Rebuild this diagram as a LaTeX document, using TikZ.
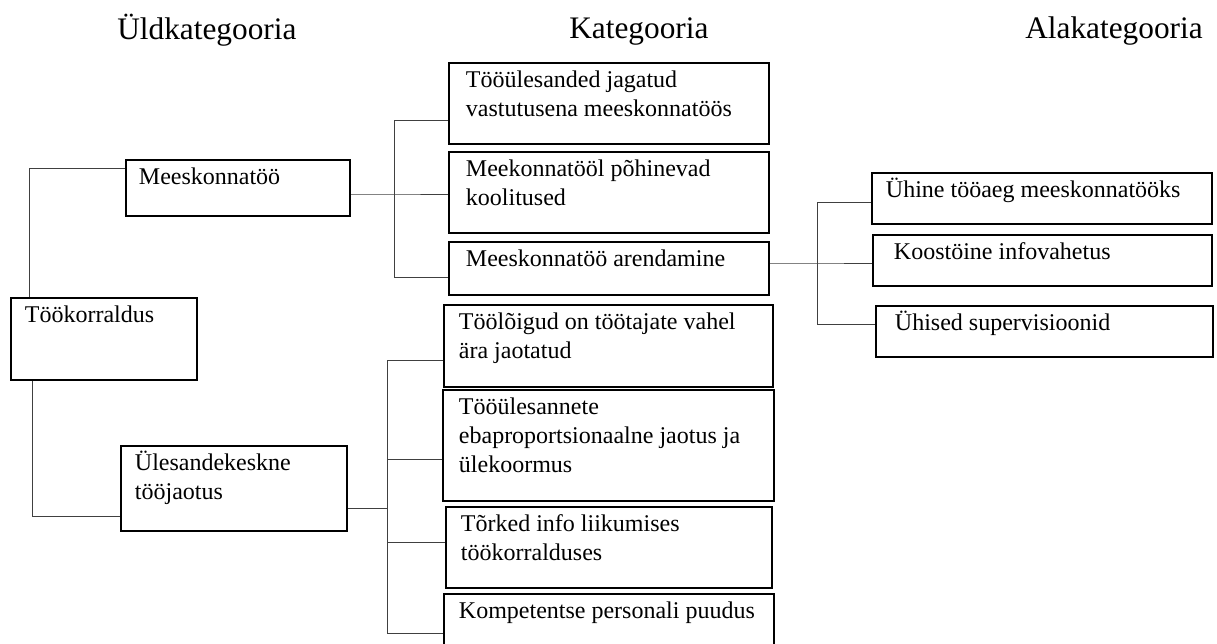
\documentclass[tikz,border=0pt]{standalone}
\usepackage{fontspec}
\setmainfont{Liberation Serif}
\usetikzlibrary{fit}

\begin{document}
\begin{tikzpicture}[
            x=0.75pt, y=-0.75pt,
            box/.style={draw, line width=2pt, inner sep=0pt},
            txt/.style={anchor=north west, inner sep=0pt, align=left, xshift=12pt, yshift=-4pt,
                font=\fontsize{18}{21.75}\selectfont},
            head/.style={anchor=base west, inner sep=0pt, font=\fontsize{23.5}{28}\selectfont},
            link/.style={draw=black!75, line width=0.75pt}
        ]
        \useasboundingbox (0,0) rectangle (1217,643);

        \node[head] (h1) at (117,39) {Üldkategooria};
        \node[head] (h2) at (569,38) {Kategooria};
        \node[head] (h3) at (1025,38) {Alakategooria};

        \node[box, fit={(11,298) (197,380)}, label={[txt, xshift=-0.75pt]north west:\strut Töökorraldus}] (tk) {};
        \node[box, fit={(126,160) (350,216)}, label={[txt, xshift=-1.5pt]north west:\strut Meeskonnatöö}] (mt) {};
        \node[box, fit={(121,446) (347,531)}, label={[txt, xshift=-0.75pt]north west:\strut Ülesandekeskne\\tööjaotus}] (ue) {};

        \node[box, fit={(449,63) (769,144)}, label={[txt, xshift=1.5pt]north west:\strut Tööülesanded jagatud\\vastutusena meeskonnatöös}] (k1) {};
        \node[box, fit={(449,152) (769,233)}, label={[txt, xshift=1.5pt]north west:\strut Meekonnatööl põhinevad\\koolitused}] (k2) {};
        \node[box, fit={(449,242) (769,295)}, label={[txt, xshift=1.5pt]north west:\strut Meeskonnatöö arendamine}] (k3) {};
        \node[box, fit={(444,305) (773,387)}, label={[txt]north west:\strut Töölõigud on töötajate vahel\\ära jaotatud}] (k4) {};
        \node[box, fit={(443,390) (774,501)}, label={[txt, xshift=0.75pt]north west:\strut Tööülesannete\\ebaproportsionaalne jaotus ja\\ülekoormus}] (k5) {};
        \node[box, fit={(446,507) (772,588)}, label={[txt]north west:\strut Tõrked info liikumises\\töökorralduses}] (k6) {};
        \node[box, fit={(444,594) (774,650)}, label={[txt]north west:\strut Kompetentse personali puudus}] (k7) {};

        \node[box, fit={(872,173) (1212,224)}, label={[txt, xshift=-0.75pt]north west:\strut Ühine tööaeg meeskonnatööks}] (sa) {};
        \node[box, fit={(873,235) (1212,286)}, label={[txt, xshift=4.5pt]north west:\strut Koostöine infovahetus}] (sb) {};
        \node[box, fit={(876,306) (1213,357)}, label={[txt, xshift=3pt]north west:\strut Ühised supervisioonid}] (sc) {};

        \coordinate (j1) at (29,168);
        \coordinate (j2) at (32,516);
        \draw[link] (j1 -| mt.west) -- (j1) -- (j1 |- tk.north);
        \draw[link] (j2 |- tk.south) -- (j2) -- (j2 -| ue.west);

        \coordinate (b1) at (394,194);
        \coordinate (b1t) at (394,120);
        \coordinate (b1b) at (394,277);
        \draw[link] (b1 -| mt.east) -- (b1) -- (b1 -| k2.west);
        \draw[link] (b1t -| k1.west) -- (b1t) -- (b1b) -- (b1b -| k3.west);

        \coordinate (b2) at (817,263);
        \coordinate (b2t) at (817,202);
        \coordinate (b2b) at (817,324);
        \draw[link] (b2 -| k3.east) -- (b2) -- (b2 -| sb.west);
        \draw[link] (b2t -| sa.west) -- (b2t) -- (b2b) -- (b2b -| sc.west);

        \coordinate (b3) at (387,508);
        \coordinate (b3t) at (387,360);
        \coordinate (b3m) at (387,459);
        \coordinate (b3n) at (387,542);
        \coordinate (b3b) at (387,633);
        \draw[link] (b3 -| ue.east) -- (b3);
        \draw[link] (b3t -| k4.west) -- (b3t) -- (b3b) -- (b3b -| k7.west);
        \draw[link] (b3m) -- (b3m -| k5.west);
        \draw[link] (b3n) -- (b3n -| k6.west);
    \end{tikzpicture}
\end{document}
